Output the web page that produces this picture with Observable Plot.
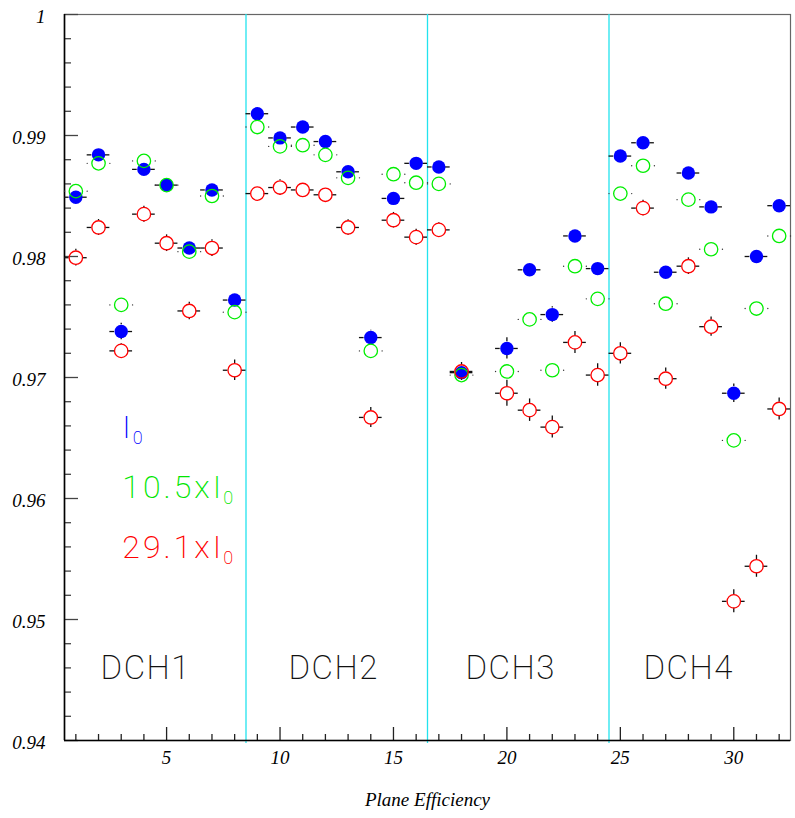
<!DOCTYPE html>
<html><head><meta charset="utf-8">
<script src="https://cdn.jsdelivr.net/npm/d3@7"></script>
<script src="https://cdn.jsdelivr.net/npm/@observablehq/plot@0.6"></script>
<style>body{margin:0;background:#fff;overflow:hidden}</style>
</head><body><div id="chart"></div>
<script>
// ---- data ----
const planes = [1,2,3,4,5,6,7,8,9,10,11,12,13,14,15,16,17,18,20,21,22,23,24,25,26,27,28,29,30,31,32];
const effI0  = [0.9849,0.9884,0.9738,0.9872,0.9859,0.9807,0.9855,0.9764,0.9918,0.9898,0.9907,0.9895,0.9870,0.9733,0.9848,0.9877,0.9874,0.9704,0.9724,0.9789,0.9752,0.9817,0.9790,0.9883,0.9894,0.9787,0.9869,0.9841,0.9687,0.9800,0.9842];
const eff105 = [0.9854,0.9877,0.9760,0.9879,0.9859,0.9804,0.9850,0.9754,0.9907,0.9891,0.9892,0.9884,0.9865,0.9722,0.9868,0.9861,0.9860,0.9702,0.9705,0.9748,0.9706,0.9792,0.9765,0.9852,0.9875,0.9761,0.9847,0.9806,0.9648,0.9757,0.9817];
const eff291 = [0.9799,0.9824,0.9722,0.9835,0.9811,0.9755,0.9807,0.9706,0.9852,0.9857,0.9855,0.9851,0.9824,0.9667,0.9830,0.9816,0.9822,0.9705,0.9687,0.9673,0.9659,0.9729,0.9702,0.9720,0.9840,0.9699,0.9792,0.9742,0.9515,0.9544,0.9674];
const errI0  = [0.0004,0.0004,0.00069,0.0004,0.0004,0.00045,0.0004,0.0005,0.0004,0.0004,0.0004,0.0004,0.0004,0.0006,0.0004,0.0004,0.0004,0.00058,0.00088,0.0005,0.00064,0.00054,0.0005,0.0004,0.0004,0.00054,0.0004,0.00045,0.00077,0.0005,0.0004];
const err291 = [0.00069,0.00066,0.00062,0.00066,0.00069,0.00072,0.00069,0.00085,0.00054,0.00064,0.00054,0.00054,0.00064,0.00083,0.00064,0.00066,0.0006,0.00074,0.00107,0.00093,0.00091,0.00091,0.00093,0.00088,0.00064,0.00088,0.00069,0.0008,0.00095,0.00091,0.00091];

const chamberBounds = [8.5,16.5,24.5];
const chamberLabels = ["DCH1","DCH2","DCH3","DCH4"];
const chamberLabelX = [2.09,10.37,18.17,26.02];
const chamberLabelY = 0.94595;

const legendText  = ["I","10.5xI","29.1xI"];
const legendColor = ["#0000ff","#00e600","#ff0000"];
const legendX = [3.05,3.05,3.05];
const legendY = [0.96587,0.96087,0.95591];

const yMajor = [0.94,0.95,0.96,0.97,0.98,0.99,1];
const yTickLabels = ["0.94","0.95","0.96","0.97","0.98","0.99","1"];
const yMinor = [0.942,0.944,0.946,0.948,0.952,0.954,0.956,0.958,0.962,0.964,0.966,0.968,0.972,0.974,0.976,0.978,0.982,0.984,0.986,0.988,0.992,0.994,0.996,0.998];
const xMajor = [5,10,15,20,25,30];
const xTickLabels = ["5","10","15","20","25","30"];
const xMinor = [1,2,3,4,6,7,8,9,11,12,13,14,16,17,18,19,21,22,23,24,26,27,28,29,31,32];
const xTitle = "Plane Efficiency";

// ---- layout ----
const W = 795, H = 818, mL = 64, mR = 5, mT = 14, mB = 78;
const PW = W - mL - mR, PH = H - mT - mB;
const R = 6.7;          // marker radius (px)
const errMin = 0.00056; // error bars shorter than the marker are hidden
const serif = "'Liberation Serif', 'DejaVu Serif', serif";
const sans = "Roboto, 'Noto Sans', sans-serif";

const rows = planes.map((p, i) => ({p, a: effI0[i], g: eff105[i], r: eff291[i], ea: errI0[i], er: err291[i]}));
const legend = legendText.map((t, i) => ({t, c: legendColor[i], x: legendX[i], y: legendY[i]}));
const chambers = chamberLabels.map((t, i) => ({t, x: chamberLabelX[i], y: chamberLabelY}));
const yTicks = yMajor.map((v, i) => ({v, t: yTickLabels[i]}));
const xTicks = xMajor.map((v, i) => ({v, t: xTickLabels[i]}));

function errorBars(key, ekey, color) {
  const marks = [
    Plot.ruleY(rows, {y: key, x1: d => d.p - 0.5, x2: "p", insetRight: R, stroke: color, strokeWidth: 1.3}),
    Plot.ruleY(rows, {y: key, x1: "p", x2: d => d.p + 0.5, insetLeft: R, stroke: color, strokeWidth: 1.3})
  ];
  if (ekey) {
    const big = rows.filter(d => d[ekey] > errMin);
    marks.push(
      Plot.ruleX(big, {x: "p", y1: d => d[key] + d[ekey], y2: key, insetBottom: R, stroke: color, strokeWidth: 1.3}),
      Plot.ruleX(big, {x: "p", y1: key, y2: d => d[key] - d[ekey], insetTop: R, stroke: color, strokeWidth: 1.3})
    );
  }
  return marks;
}

const chart = Plot.plot({
  width: W, height: H,
  marginLeft: mL, marginRight: mR, marginTop: mT, marginBottom: mB,
  style: {fontFamily: serif, fontStyle: "italic", fontSize: "17px", background: "#fff", color: "#000"},
  x: {domain: [0.5, 32.5], axis: null},
  y: {domain: [0.94, 1], axis: null},
  marks: [
    Plot.frame({stroke: "#666", strokeWidth: 1.2}),
    Plot.ruleX(chamberBounds, {stroke: "#22e3ee", strokeWidth: 1.3, insetBottom: -3}),
    // inner ticks
    Plot.ruleY(yMajor, {stroke: "#444", strokeWidth: 1.3, insetRight: PW - 14}),
    Plot.ruleY(yMinor, {stroke: "#444", strokeWidth: 1.3, insetRight: PW - 7}),
    Plot.ruleX(xMajor, {stroke: "#222", strokeWidth: 1.3, insetTop: PH - 13}),
    Plot.ruleX(xMinor, {stroke: "#222", strokeWidth: 1.3, insetTop: PH - 6}),
    Plot.ruleX([0.5], {stroke: "#000", strokeWidth: 1.6}),
    Plot.ruleY([0.94], {stroke: "#000", strokeWidth: 1.6}),
    // tick labels
    Plot.text(yTicks, {y: "v", text: "t", frameAnchor: "left", dx: -19, dy: 2, textAnchor: "end", lineAnchor: "middle",
      fontFamily: serif, fontStyle: "italic", fontSize: 19, fill: "#000"}),
    Plot.text(xTicks, {x: "v", text: "t", frameAnchor: "bottom", dy: 17, lineAnchor: "middle",
      fontFamily: serif, fontStyle: "italic", fontSize: 19, fill: "#000"}),
    // I0 series
    ...errorBars("a", "ea", "#111"),
    Plot.dot(rows, {x: "p", y: "a", r: R, fill: "#0000ff", stroke: "none"}),
    // 10.5 x I0 series
    Plot.dot(rows, {x: d => d.p - 0.5, y: "g", r: 0.7, fill: "#333", stroke: "none"}),
    Plot.dot(rows, {x: d => d.p + 0.5, y: "g", r: 0.7, fill: "#333", stroke: "none"}),
    Plot.dot(rows, {x: "p", y: "g", r: R, fill: "none", stroke: "#00ee00", strokeWidth: 1.3}),
    // 29.1 x I0 series
    ...errorBars("r", "er", "#111"),
    Plot.dot(rows, {x: "p", y: "r", r: R, fill: "none", stroke: "#ff0000", strokeWidth: 1.3}),
    // labels
    Plot.text(chambers, {x: "x", y: "y", text: "t", textAnchor: "start", lineAnchor: "middle", fill: "#111",
      fontFamily: sans, fontWeight: 200, fontStyle: "normal", fontSize: 33}),
    Plot.text(legend, {x: "x", y: "y", text: "t", fill: "c", textAnchor: "start", lineAnchor: "middle",
      fontFamily: sans, fontWeight: 200, fontStyle: "normal", fontSize: 32}),
    Plot.text([xTitle], {frameAnchor: "bottom", dy: 59, lineAnchor: "middle", fontSize: 19, fontStyle: "italic", fontFamily: serif})
  ]
});

// subscript zeros for the legend, letter spacing like the original font
d3.select(chart).selectAll("text").each(function() {
  const t = this.textContent;
  if (legendText.includes(t)) {
    this.style.letterSpacing = "3px";
    d3.select(this).append("tspan").attr("dy", 6).attr("dx", -1).attr("font-size", 18).text("0");
  } else if (chamberLabels.includes(t)) {
    this.style.letterSpacing = "1.5px";
  }
});

document.getElementById("chart").appendChild(chart);
</script>
</body></html>
